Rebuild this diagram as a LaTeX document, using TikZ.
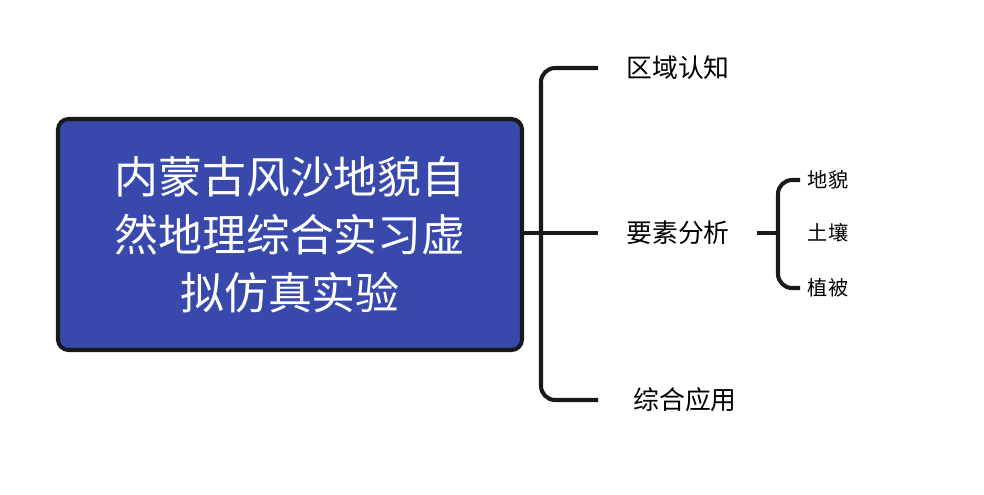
\documentclass[tikz,border=0pt]{standalone}
\usepackage{fontspec}
\setmainfont{Noto Sans CJK SC}
\usetikzlibrary{positioning}
\definecolor{boxblue}{RGB}{57,73,171}
\begin{document}
\begin{tikzpicture}[
  x=0.02cm, y=-0.02cm,
  root/.style={draw=black!90, line width=2.3pt, fill=boxblue, rounded corners=6pt,
    text=white, font=\fontsize{25}{33}\selectfont, align=center,
    minimum width=464*0.02cm, minimum height=231*0.02cm},
  branch/.style={font=\fontsize{14.7}{17}\selectfont},
  leaf/.style={font=\fontsize{11.5}{14}\selectfont},
  link/.style={draw=black!90, line width=2.3pt, rounded corners=8pt}
]
\useasboundingbox (0,0) rectangle (984,494);

%root
\node[root] (main) at (290,234.5) {内蒙古风沙地貌自\\然地理综合实习虚\\拟仿真实验};

%first level
\node[branch] (quyu) at (678,68) {区域认知};
\node[branch] (yaosu) at (678,233) {要素分析};
\node[branch] (zonghe) at (685,400) {综合应用};
\coordinate (topend) at (598,68);
\coordinate (botend) at (598,400);
\coordinate (midend) at (598,233);
\draw[link] (topend) -- (541,68) -- (541,400) -- (botend);
\draw[link] (main.east |- midend) -- (midend);

%second level
\node[leaf] (dimao) at (828,180) {地貌};
\node[leaf] (turang) at (828,233) {土壤};
\node[leaf] (zhibei) at (828,288) {植被};
\coordinate (stem) at (757,233);
\draw[link] (800,180) -- (778,180) -- (778,288) -- (800,288);
\draw[link] (stem) -- (778,233);
\end{tikzpicture}
\end{document}
